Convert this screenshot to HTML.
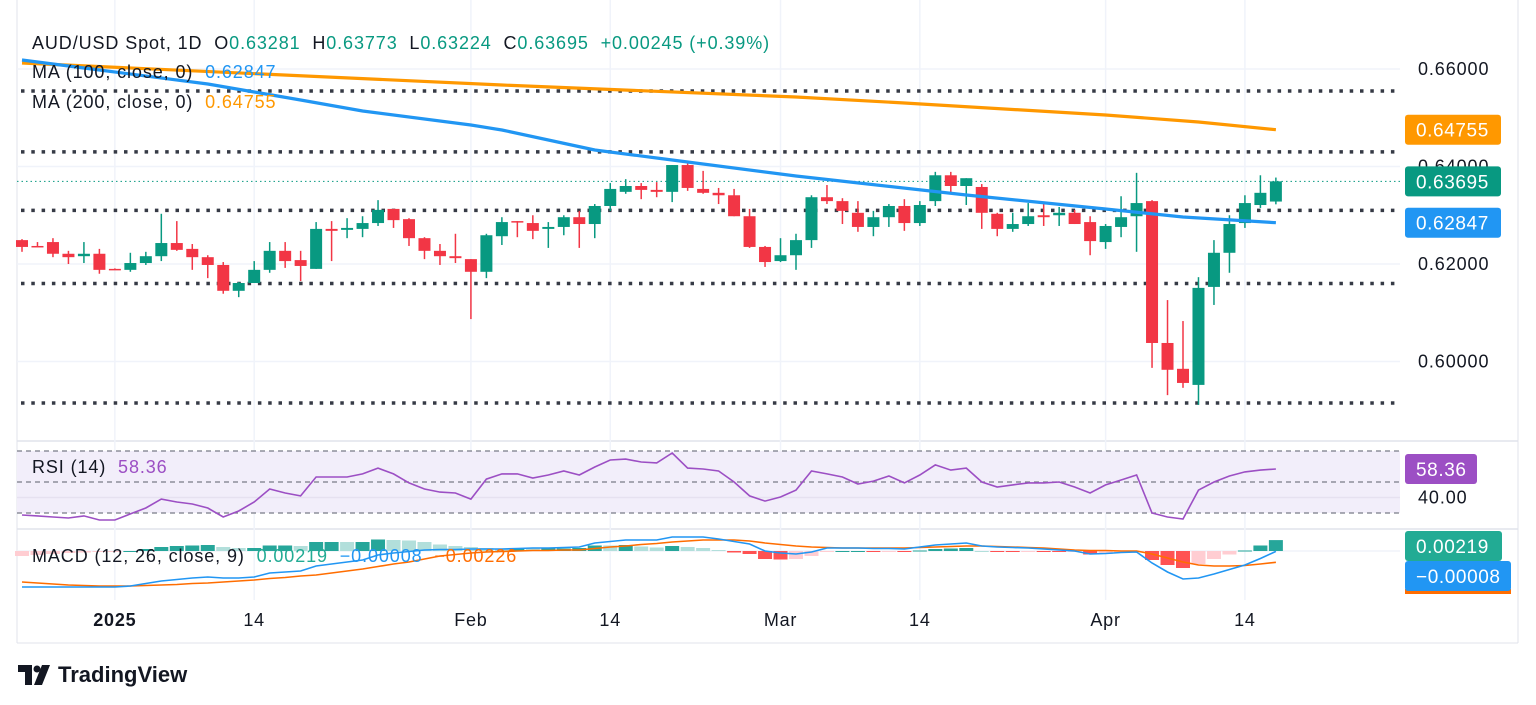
<!DOCTYPE html>
<html><head><meta charset="utf-8"><style>
html,body{margin:0;padding:0;background:#fff;}
body{width:1536px;height:705px;overflow:hidden;position:relative;font-family:"Liberation Sans",sans-serif;}
svg{position:absolute;left:0;top:0;}
.leg{position:absolute;left:32px;font-size:18px;letter-spacing:0.9px;color:#131722;white-space:nowrap;}
</style></head><body>
<svg id="chart" width="1536" height="705" viewBox="0 0 1536 705"></svg>
<div class="leg" style="top:33px">AUD/USD Spot, 1D&nbsp; O<span style="color:#089981">0.63281</span>&nbsp; H<span style="color:#089981">0.63773</span>&nbsp; L<span style="color:#089981">0.63224</span>&nbsp; C<span style="color:#089981">0.63695</span>&nbsp; <span style="color:#089981">+0.00245 (+0.39%)</span></div>
<div class="leg" style="top:62px">MA (100, close, 0)&nbsp; <span style="color:#2196f3">0.62847</span></div>
<div class="leg" style="top:92px">MA (200, close, 0)&nbsp; <span style="color:#ff9800">0.64755</span></div>
<div class="leg" style="top:457px">RSI (14)&nbsp; <span style="color:#9c4fc4">58.36</span></div>
<div class="leg" style="top:546px">MACD (12, 26, close, 9)&nbsp; <span style="color:#22ab94">0.00219</span>&nbsp; <span style="color:#2196f3">−0.00008</span>&nbsp; <span style="color:#ff6d00">−0.00226</span></div>
<div style="position:absolute;left:18px;top:661px;height:28px;display:flex;align-items:center;">
<svg width="36" height="20" viewBox="0 0 36 20" style="position:static"><path d="M0 0h14v20h-7v-13h-7z" fill="#131722"/><circle cx="19" cy="4" r="3.5" fill="#131722"/><path d="M24 0h8l-8 20h-8z" fill="#131722"/></svg>
<span style="font-size:22px;font-weight:bold;color:#131722;margin-left:4px;">TradingView</span></div>
<script>
const opens=[.6249,.6237,.6245,.6221,.6216,.6221,.6190,.6188,.6202,.6216,.6243,.6231,.6214,.6198,.6145,.6161,.6188,.6227,.6208,.6190,.6272,.6270,.6272,.6284,.6313,.6292,.6253,.6227,.6216,.6210,.6184,.6257,.6288,.6284,.6272,.6276,.6296,.6282,.6319,.6348,.6360,.6352,.6348,.6403,.6354,.6346,.6341,.6298,.6235,.6206,.6218,.6249,.6337,.6329,.6305,.6276,.6296,.6319,.6284,.6329,.6382,.6360,.6358,.6303,.6272,.6282,.6300,.6300,.6305,.6286,.6245,.6276,.6298,.6329,.6038,.5985,.5952,.6153,.6223,.6284,.6321,.63281];
const highs=[.6251,.6245,.6253,.6227,.6245,.6231,.6191,.6223,.6225,.6303,.6288,.6241,.6218,.6204,.6163,.6206,.6245,.6245,.6227,.6286,.6288,.6294,.6298,.6331,.6313,.6294,.6255,.6241,.6262,.6210,.6262,.6296,.6288,.6300,.6286,.6300,.6309,.6323,.6366,.6374,.6366,.6368,.6403,.6407,.6391,.6356,.6354,.6313,.6237,.6253,.6262,.6341,.6362,.6335,.6329,.6309,.6323,.6333,.6329,.6389,.6389,.6376,.6364,.6305,.6305,.6325,.6327,.6317,.6311,.6298,.6282,.6339,.6387,.6331,.6126,.6083,.6173,.6249,.6300,.6341,.6382,.63773];
const lows=[.6225,.6235,.6214,.6200,.6202,.6180,.6188,.6184,.6198,.6206,.6227,.6188,.6171,.6139,.6132,.6161,.6182,.6192,.6165,.6190,.6206,.6253,.6255,.6278,.6274,.6237,.6210,.6198,.6202,.6087,.6171,.6239,.6255,.6251,.6233,.6259,.6233,.6253,.6309,.6344,.6333,.6337,.6327,.6350,.6344,.6323,.6298,.6233,.6194,.6204,.6188,.6233,.6323,.6282,.6266,.6257,.6276,.6268,.6278,.6319,.6346,.6321,.6272,.6257,.6266,.6278,.6278,.6278,.6282,.6218,.6231,.6255,.6225,.5987,.5931,.5946,.5911,.6116,.6182,.6274,.6315,.63224];
const closes=[.6235,.6235,.6221,.6214,.6221,.6188,.6188,.6202,.6216,.6243,.6229,.6214,.6198,.6145,.6161,.6188,.6227,.6206,.6196,.6272,.6268,.6274,.6284,.6311,.6290,.6253,.6227,.6216,.6212,.6184,.6259,.6286,.6286,.6268,.6276,.6296,.6282,.6319,.6354,.6360,.6352,.6348,.6403,.6356,.6346,.6341,.6298,.6235,.6204,.6218,.6249,.6337,.6329,.6309,.6276,.6296,.6319,.6284,.6321,.6382,.6360,.6376,.6305,.6272,.6282,.6298,.6296,.6305,.6282,.6247,.6278,.6296,.6325,.6038,.5983,.5956,.6151,.6223,.6282,.6325,.6346,.63695];
const ma100Idx=[0,5,12,15,18,22,29,31,37,41,50,61,70,75,81];
const ma100Val=[.66185,.65979,.65692,.65528,.65364,.65138,.64851,.64749,.64338,.64174,.63805,.63415,.63128,.62964,.62847];
const ma200Idx=[0,31,50,57,70,76,81];
const ma200Val=[.66123,.65672,.65426,.65303,.65056,.64913,.64755];
const rsi=[28.7,28.1,27.4,26.8,28.1,25.5,25.5,29.4,33.2,39.0,37.1,35.8,33.2,27.4,31.3,37.1,45.5,42.9,41.0,53.2,53.2,53.2,55.2,59.0,55.2,49.4,45.5,43.5,42.9,39.0,51.9,55.2,55.2,52.6,54.5,57.1,54.5,59.7,64.2,64.8,62.9,62.3,68.7,59.0,58.4,57.1,50.0,41.0,37.7,40.3,44.8,57.1,55.2,53.2,48.7,50.6,53.9,49.4,54.5,61.0,57.7,59.0,50.0,46.8,48.1,49.4,49.4,50.0,46.8,42.9,48.1,51.3,54.5,30.0,27.4,26.1,44.8,50.0,53.9,56.5,57.7,58.36];
const macd=[-.0072,-.0072,-.0072,-.0072,-.0072,-.0072,-.0072,-.0070,-.0065,-.0060,-.0057,-.0054,-.0052,-.0054,-.0054,-.0052,-.0044,-.0042,-.0040,-.0030,-.0026,-.0022,-.0018,-.0008,-.0004,-.0001,.0002,.0003,.0003,.0004,.0004,.0004,.0005,.0006,.0006,.0007,.0008,.0016,.0019,.0022,.0022,.0022,.0028,.0028,.0028,.0024,.0019,.0014,.0000,-.0004,-.0006,-.0002,.0006,.0006,.0006,.0005,.0005,.0004,.0008,.0012,.0014,.0016,.0010,.0008,.0007,.0006,.0004,.0002,.0000,-.0006,-.0005,-.0003,-.0002,-.0024,-.0042,-.0056,-.0054,-.0046,-.0037,-.0028,-.0015,-.00008];
const signal=[-.0062,-.0064,-.0066,-.0068,-.0069,-.0070,-.0070,-.0070,-.0069,-.0068,-.0067,-.0065,-.0064,-.0062,-.0060,-.0058,-.0055,-.0053,-.0050,-.0048,-.0044,-.0040,-.0036,-.0031,-.0026,-.0022,-.0016,-.0010,-.0007,-.0004,-.0002,-.0001,.0000,.0001,.0001,.0002,.0002,.0005,.0008,.0010,.0013,.0015,.0018,.0020,.0022,.0022,.0022,.0020,.0016,.0013,.0010,.0008,.0007,.0006,.0006,.0006,.0006,.0006,.0007,.0008,.0009,.0010,.0010,.0009,.0008,.0007,.0006,.0004,.0002,.0001,.0001,.0000,.0000,-.0006,-.0014,-.0022,-.0028,-.0030,-.0030,-.0029,-.0026,-.00226];
const priceTicks=[0.66,0.64,0.62,0.60];
const priceTickLabels=["0.66000","0.64000","0.62000","0.60000"];
const levelLines=[0.6555,0.6430,0.6310,0.6160,0.5915];
const timeTickIdx=[6,15,29,38,49,58,70,79];
const timeTickLabels=["2025","14","Feb","14","Mar","14","Apr","14"];
const rsiBands=[70,50,30];

const NS="http://www.w3.org/2000/svg";
const svg=document.getElementById('chart');
const X0=17,X1=1400,XR=1518;
function xs(i){return 22+i*15.48;}
function py(p){return 264-(p-0.62)*4875;}
function ry(v){return 482-(v-50)*1.55;}
function my(v){return 551-v*5000;}
function el(tag,attrs,parent){const e=document.createElementNS(NS,tag);for(const k in attrs)e.setAttribute(k,attrs[k]);(parent||svg).appendChild(e);return e;}
const FONT='Liberation Sans, sans-serif';
let e;
e=el('line',{x1:X0,y1:441,x2:XR,y2:441,stroke:'#e0e3eb','stroke-width':1.5});


e=el('line',{x1:X0,y1:529,x2:XR,y2:529,stroke:'#e0e3eb','stroke-width':1.5});


e=el('line',{x1:X0,y1:0,x2:X0,y2:643,stroke:'#e0e3eb','stroke-width':1});


e=el('line',{x1:X0,y1:643,x2:XR,y2:643,stroke:'#e0e3eb','stroke-width':1});


e=el('line',{x1:XR,y1:0,x2:XR,y2:643,stroke:'#e0e3eb','stroke-width':1});



timeTickIdx.forEach((ti,k)=>{
  const g=el('line',{x1:xs(ti),y1:0,x2:xs(ti),y2:600,stroke:'#f0f3fa','stroke-width':1.5});
  
  
  const t=el('text',{x:xs(ti),y:626,'text-anchor':'middle','font-size':18,'letter-spacing':0.8,fill:'#131722','font-family':FONT,'font-weight':timeTickLabels[k]==='2025'?'bold':'normal'});
  t.textContent=timeTickLabels[k];
  
  
});
priceTicks.forEach((p,k)=>{
  const g=el('line',{x1:X0,y1:py(p),x2:X1,y2:py(p),stroke:'#f0f3fa','stroke-width':1.5});
  
  
  const t=el('text',{x:1418,y:py(p)+6,'font-size':18,'letter-spacing':0.9,fill:'#131722','font-family':FONT});
  t.textContent=priceTickLabels[k];
  
  
});
levelLines.forEach(p=>{
  const l=el('line',{x1:X0+4,y1:py(p),x2:X1,y2:py(p),stroke:'#363a45','stroke-width':3.5,'stroke-dasharray':'3.5 6.8'});
  
  
});
e=el('line',{x1:X0,y1:py(closes[closes.length-1]),x2:X1,y2:py(closes[closes.length-1]),stroke:'#089981','stroke-width':1,'stroke-dasharray':'1.5 3'});



for(let i=0;i<closes.length;i++){
  const up=closes[i]>=opens[i];const c=up?'#089981':'#f23645';
  const w=el('line',{x1:xs(i),y1:py(highs[i]),x2:xs(i),y2:py(lows[i]),stroke:c,'stroke-width':1.5});
  
  
  const top=py(Math.max(opens[i],closes[i])),bot=py(Math.min(opens[i],closes[i]));
  const b=el('rect',{x:xs(i)-6,y:top,width:12,height:Math.max(1.5,bot-top),fill:c});
  
  
}
function maPath(idx,val,color,name){
  const d=idx.map((ii,k)=>(k?'L':'M')+xs(ii).toFixed(1)+' '+py(val[k]).toFixed(1)).join(' ');
  const p=el('path',{d:d,fill:'none',stroke:color,'stroke-width':3.2,'stroke-linejoin':'round'});
  
  
}
maPath(ma200Idx,ma200Val,'#ff9800','ma200-line');
maPath(ma100Idx,ma100Val,'#2196f3','ma100-line');

e=el('rect',{x:X0,y:ry(rsiBands[0]),width:X1-X0,height:ry(rsiBands[2])-ry(rsiBands[0]),fill:'#f2eefa'});


e=el('line',{x1:X0,y1:ry(40),x2:X1,y2:ry(40),stroke:'#e6e1f0','stroke-width':1.5});


rsiBands.forEach(v=>{
  const l=el('line',{x1:X0,y1:ry(v),x2:X1,y2:ry(v),stroke:'#787b86','stroke-width':1.2,'stroke-dasharray':'5 4'});
  
  
});
e=el('path',{d:rsi.map((v,i)=>(i?'L':'M')+xs(i).toFixed(1)+' '+ry(v).toFixed(1)).join(' '),fill:'none',stroke:'#9c4fc4','stroke-width':1.6});


e=el('text',{x:1418,y:ry(40)+6,'font-size':18,'letter-spacing':0.9,fill:'#131722','font-family':FONT});
e.textContent='40.00';



e=el('line',{x1:X0,y1:my(0),x2:X1,y2:my(0),stroke:'#f0f3fa','stroke-width':1.5});


for(let i=0;i<macd.length;i++){
  const h=macd[i]-signal[i];const ph=i?macd[i-1]-signal[i-1]:h;
  let c;
  if(h>=0)c=h>=ph?'#26a69a':'#b2dfdb';else c=h<ph?'#ff5252':'#ffcdd2';
  const y0=my(0),y1=my(h);
  const r=el('rect',{x:xs(i)-7,y:Math.min(y0,y1),width:14,height:Math.max(1,Math.abs(y1-y0)),fill:c});
  
  
}
e=el('path',{d:signal.map((v,i)=>(i?'L':'M')+xs(i).toFixed(1)+' '+my(v).toFixed(1)).join(' '),fill:'none',stroke:'#ff6d00','stroke-width':1.6});


e=el('path',{d:macd.map((v,i)=>(i?'L':'M')+xs(i).toFixed(1)+' '+my(v).toFixed(1)).join(' '),fill:'none',stroke:'#2196f3','stroke-width':1.6});



function tag(y,txt,bg,name,w){
  const g=el('g',{});
  
  
  el('rect',{x:1405,y:y-15,width:w||96,height:30,rx:3,fill:bg},g);
  const t=el('text',{x:1416,y:y+7,'font-size':19,'letter-spacing':0.6,fill:'#fff','font-family':FONT},g);
  t.textContent=txt;
}
tag(py(ma200Val[ma200Val.length-1]),'0.64755','#ff9800','ma200-price-tag');
tag(py(closes[closes.length-1]),'0.63695','#089981','last-price-tag');
tag(py(ma100Val[ma100Val.length-1]),'0.62847','#2196f3','ma100-price-tag');
tag(ry(rsi[rsi.length-1]),'58.36','#9c4fc4','rsi-value-tag',72);
el('rect',{x:1405,y:589,width:106,height:5,fill:'#ff6d00'});
tag(546,'0.00219','#22ab94','macd-histogram-tag',97);
tag(576,'−0.00008','#2196f3','macd-value-tag',106);
</script>
</body></html>
